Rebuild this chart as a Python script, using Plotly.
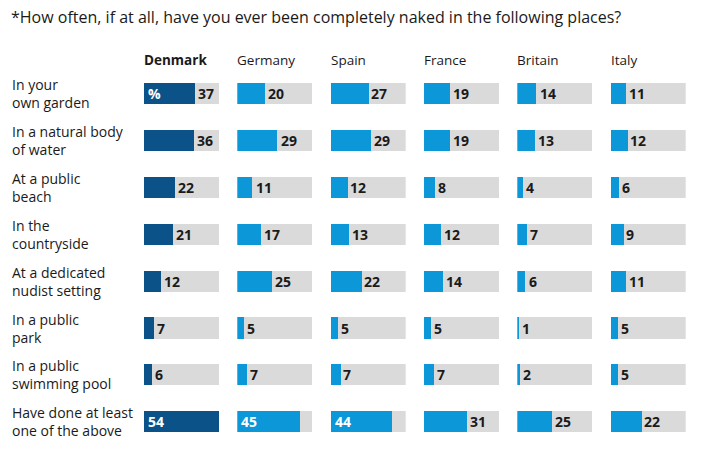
import plotly.graph_objects as go

W, H = 723, 451

title = "*How often, if at all, have you ever been completely naked in the following places?"
countries = ["Denmark", "Germany", "Spain", "France", "Britain", "Italy"]
places = ["In your<br>own garden", "In a natural body<br>of water", "At a public<br>beach",
          "In the<br>countryside", "At a dedicated<br>nudist setting", "In a public<br>park",
          "In a public<br>swimming pool", "Have done at least<br>one of the above"]
denmark = [37, 36, 22, 21, 12, 7, 6, 54]
germany = [20, 29, 11, 17, 25, 5, 7, 45]
spain = [27, 29, 12, 13, 22, 5, 7, 44]
france = [19, 19, 8, 12, 14, 5, 7, 31]
britain = [14, 13, 4, 7, 6, 1, 2, 25]
italy = [11, 12, 6, 9, 11, 5, 5, 22]
series = [denmark, germany, spain, france, britain, italy]

FONT = "Open Sans"
TXT = "#1a1a1a"
DARK = "#0b5288"
LIGHT = "#0b97d8"
GREY = "#dadada"

scale_max = max(max(s) for s in series)
rows = list(range(len(places)))

# layout geometry in pixels
col_x0 = [144 + i * 93.34 for i in range(6)]
bar_w = 75
row_top, row_bot = 93.5, 421.8
step = (row_bot - row_top) / (len(places) - 1)
dom_top = 1 - (row_top - step / 2) / H
dom_bot = 1 - (row_bot + step / 2) / H

fig = go.Figure()
annotations = []
layout_axes = {}
for i, (c, vals) in enumerate(zip(countries, series)):
    xa = "x" if i == 0 else f"x{i+1}"
    key = "xaxis" if i == 0 else f"xaxis{i+1}"
    layout_axes[key] = dict(domain=[col_x0[i] / W, (col_x0[i] + bar_w) / W],
                            range=[0, scale_max], visible=False, fixedrange=True, anchor="y")
    color = DARK if i == 0 else LIGHT
    fig.add_trace(go.Bar(x=[scale_max] * len(vals), y=rows, orientation="h", xaxis=xa, yaxis="y",
                         marker=dict(color=GREY, line=dict(width=0)), width=0.45,
                         hoverinfo="skip", showlegend=False))
    fig.add_trace(go.Bar(x=vals, y=rows, orientation="h", xaxis=xa, yaxis="y",
                         marker=dict(color=color, line=dict(width=0)), width=0.45,
                         showlegend=False))
    # header
    annotations.append(dict(xref="paper", yref="paper", x=col_x0[i] / W, y=1 - 60 / H,
                            xanchor="left", yanchor="middle", showarrow=False, xshift=-2,
                            text=f"<b>{c}</b>" if i == 0 else c,
                            font=dict(family=FONT, size=13.5, color=TXT)))
    for r, v in zip(rows, vals):
        if v > 40:
            annotations.append(dict(xref=xa, yref="y", x=0, y=r, xanchor="left", yanchor="middle",
                                    xshift=2, showarrow=False, text=f"<b>{v}</b>",
                                    font=dict(family=FONT, size=14, color="white")))
        else:
            annotations.append(dict(xref=xa, yref="y", x=v, y=r, xanchor="left", yanchor="middle",
                                    xshift=1, showarrow=False, text=f"<b>{v}</b>",
                                    font=dict(family=FONT, size=14, color=TXT)))
        if i == 0 and r == 0:
            annotations.append(dict(xref=xa, yref="y", x=0, y=r, xanchor="left", yanchor="middle",
                                    xshift=2, showarrow=False, text="<b>%</b>",
                                    font=dict(family=FONT, size=14, color="white")))

for r, p in zip(rows, places):
    annotations.append(dict(xref="paper", yref="y", x=10 / W, y=r, xanchor="left", yanchor="middle",
                            align="left", showarrow=False, text=p,
                            font=dict(family=FONT, size=14, color=TXT)))

annotations.append(dict(xref="paper", yref="paper", x=9 / W, y=1 - 17 / H, xanchor="left",
                        yanchor="middle", showarrow=False, text=title,
                        font=dict(family=FONT, size=16, color=TXT)))

fig.update_layout(
    width=W, height=H, margin=dict(l=0, r=0, t=0, b=0),
    paper_bgcolor="white", plot_bgcolor="white", barmode="overlay", bargap=0,
    yaxis=dict(domain=[dom_bot, dom_top], range=[len(places) - 0.5, -0.5], visible=False,
               fixedrange=True),
    annotations=annotations,
    **layout_axes,
)
fig.write_html("out.html", config={"displayModeBar": False},
               post_script="document.body.style.margin='0';")
